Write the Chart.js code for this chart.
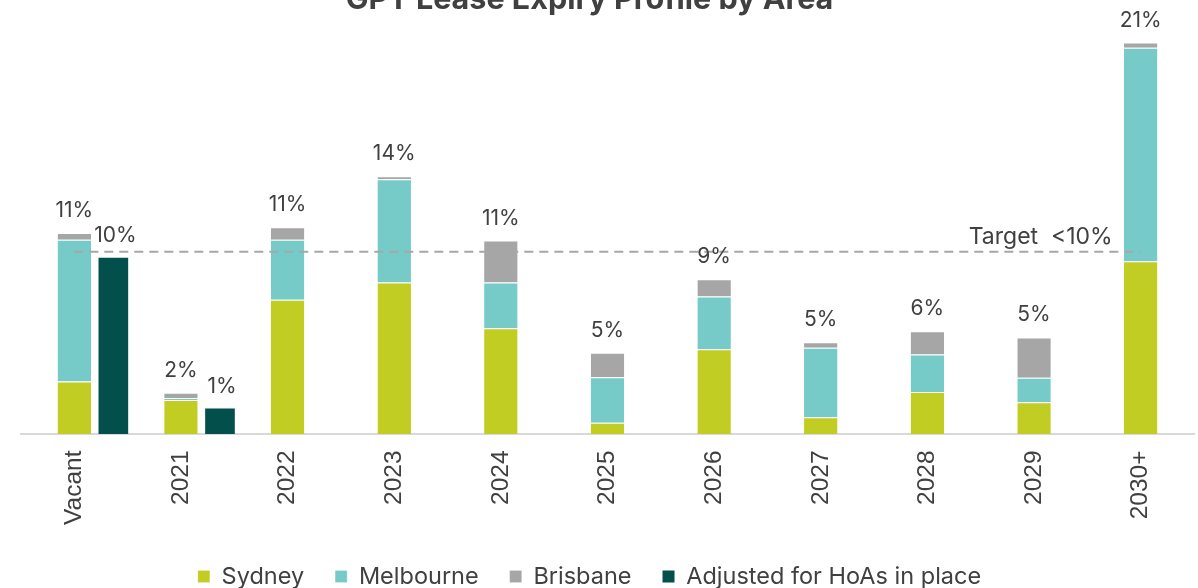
<!DOCTYPE html>
<html>
<head>
<meta charset="utf-8">
<script src="https://cdn.jsdelivr.net/npm/chart.js@4.4.1/dist/chart.umd.min.js"></script>
<style>
  html, body { margin: 0; padding: 0; background: #ffffff; overflow: hidden; }
  #wrap { position: absolute; left: 0; top: -30px; width: 1198px; height: 640px; }
</style>
</head>
<body>
<div id="wrap"><canvas id="c"></canvas></div>
<script>
// ---- Data (% of area) ----
const categories = ['Vacant', '2021', '2022', '2023', '2024', '2025', '2026', '2027', '2028', '2029', '2030+'];
const sydney    = [2.88, 1.87, 7.37, 8.31, 5.81, 0.61, 4.65, 0.91, 2.31, 1.74, 9.48];
const melbourne = [7.79, 0.11, 3.30, 5.68, 2.50, 2.50, 2.90, 3.82, 2.05, 1.34, 11.73];
const brisbane  = [0.36, 0.28, 0.68, 0.16, 2.31, 1.35, 0.94, 0.31, 1.28, 2.22, 0.28];
const adjustedCategories = ['Vacant', '2021'];
const adjusted  = [9.66, 1.38];
const totalLabels    = ['11%', '2%', '11%', '14%', '11%', '5%', '9%', '5%', '6%', '5%', '21%'];
const adjustedLabels = ['10%', '1%'];
const targetValue = 10;
const targetText = 'Target  <10%';
const chartTitle = 'GPT Lease Expiry Profile by Area';

const FONT = 'Inter';
const TICK_FONT = '"Liberation Sans", Arial, sans-serif';
const TXT = '#404040';
const ADJ_SHIFT = 0.366;   // offset of the "adjusted" bar, in category widths
const BLOCK_SHIFT = -18;   // title & legend are centred a little left of the plot centre

const adjustedPoints = adjustedCategories.map((c, i) => ({ x: categories.indexOf(c), y: adjusted[i] }));
const targetLine = categories.map(() => targetValue);

const shiftPlugin = {
  id: 'shiftBlocks',
  beforeDraw(chart) {
    [chart.legend, chart.titleBlock].forEach(b => {
      if (b && !b._shifted) { b.left += BLOCK_SHIFT; b.right += BLOCK_SHIFT; b._shifted = true; }
    });
  }
};

const labelsPlugin = {
  id: 'valueLabels',
  afterDatasetsDraw(chart) {
    const ctx = chart.ctx;
    ctx.save();
    ctx.font = '21px ' + FONT;
    ctx.fillStyle = TXT;
    ctx.textAlign = 'center';
    ctx.textBaseline = 'alphabetic';
    const topMeta = chart.getDatasetMeta(2);
    topMeta.data.forEach((el, i) => {
      ctx.fillText(totalLabels[i], el.x, el.y - 16);
    });
    const adjMeta = chart.getDatasetMeta(3);
    adjMeta.data.forEach((el, i) => {
      ctx.fillText(adjustedLabels[i], el.x + 2, el.y - 16);
    });
    const lineMeta = chart.getDatasetMeta(4);
    const last = lineMeta.data[lineMeta.data.length - 1];
    ctx.font = '23px ' + FONT;
    ctx.textAlign = 'right';
    ctx.fillText(targetText, last.x - 28, last.y - 8);
    ctx.restore();
  }
};

const barCommon = {
  stack: 'main',
  xAxisID: 'x',
  grouped: false,
  barPercentage: 0.314,
  categoryPercentage: 1,
  borderWidth: { top: 1, left: 0, right: 0, bottom: 0 },
  borderColor: 'rgba(255,255,255,0.85)',
  borderSkipped: 'start',
  order: 2
};

new Chart(document.getElementById('c'), {
  type: 'bar',
  data: {
    labels: categories,
    datasets: [
      Object.assign({ label: 'Sydney', data: sydney, backgroundColor: '#c2cd23' }, barCommon),
      Object.assign({ label: 'Melbourne', data: melbourne, backgroundColor: '#76cbc8' }, barCommon),
      Object.assign({ label: 'Brisbane', data: brisbane, backgroundColor: '#a6a6a6' }, barCommon),
      {
        label: 'Adjusted for HoAs in place',
        data: adjustedPoints,
        xAxisID: 'x2',
        stack: 'adj',
        grouped: false,
        backgroundColor: '#024f4b',
        barThickness: 29,
        borderWidth: 0,
        order: 2
      },
      {
        type: 'line',
        label: 'Target',
        data: targetLine,
        xAxisID: 'x',
        borderColor: '#a6a6a6',
        borderWidth: 2,
        borderDash: [9, 6],
        pointRadius: 0,
        fill: false,
        order: 0
      }
    ]
  },
  options: {
    responsive: true,
    maintainAspectRatio: false,
    animation: false,
    layout: { padding: { top: 0, left: 21, right: 4, bottom: 11.75 } },
    scales: {
      x: {
        type: 'category',
        offset: true,
        stacked: true,
        grid: { display: false, drawTicks: false },
        border: { display: true, color: '#d9d9d9', width: 2 },
        ticks: {
          color: TXT,
          font: { family: TICK_FONT, size: 24.5 },
          minRotation: 90,
          maxRotation: 90,
          padding: 16.5,
          autoSkip: false
        },
        afterFit(scale) { scale.height -= 7.65; }
      },
      x2: {
        type: 'linear',
        display: false,
        offset: false,
        min: -0.5 - ADJ_SHIFT,
        max: categories.length - 0.5 - ADJ_SHIFT,
        grid: { display: false }
      },
      y: {
        stacked: true,
        display: false,
        min: 0,
        max: 22
      }
    },
    plugins: {
      title: {
        display: true,
        text: chartTitle,
        color: TXT,
        font: { family: FONT, size: 30.5, weight: 'bold' },
        padding: { top: 11.6, bottom: 15.1 }
      },
      legend: {
        position: 'bottom',
        labels: {
          color: TXT,
          font: { family: FONT, size: 23.5 },
          boxWidth: 12,
          boxHeight: 12,
          padding: 31,
          filter: (item) => item.text !== 'Target'
        }
      },
      tooltip: { enabled: false }
    }
  },
  plugins: [labelsPlugin, shiftPlugin]
});
</script>
</body>
</html>
